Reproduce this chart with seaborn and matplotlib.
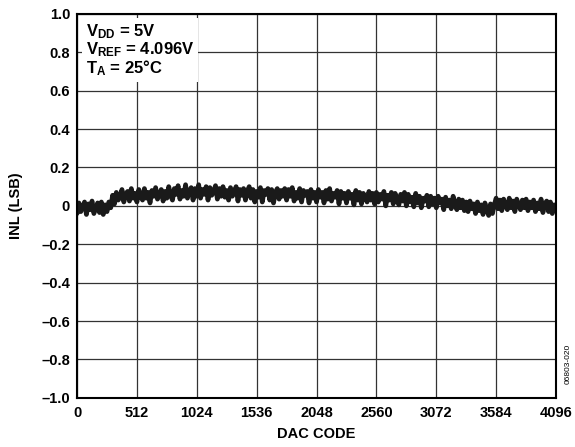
import numpy as np
import pandas as pd
import matplotlib.pyplot as plt
import seaborn as sns

CODE_STEP = 16
inl_lsb = [
    -0.04, 0.015, -0.03, -0.005, 0.02, -0.045, 0.01, -0.02, 0.025, -0.04, -0.01, 0.015, -0.035, 0.02, -0.045, 0.005,
    -0.03, 0.02, -0.01, 0.055, 0.01, 0.07, 0.03, 0.045, 0.085, 0.02, 0.06, 0.075, 0.025, 0.09, 0.04, 0.065,
    0.02, 0.085, 0.05, 0.03, 0.09, 0.04, 0.07, 0.015, 0.08, 0.05, 0.095, 0.035, 0.06, 0.085, 0.025, 0.075,
    0.04, 0.1, 0.055, 0.03, 0.09, 0.06, 0.105, 0.035, 0.08, 0.05, 0.11, 0.04, 0.075, 0.095, 0.03, 0.09,
    0.05, 0.11, 0.04, 0.085, 0.06, 0.1, 0.03, 0.095, 0.055, 0.075, 0.105, 0.035, 0.09, 0.05, 0.1, 0.045,
    0.08, 0.03, 0.095, 0.05, 0.07, 0.1, 0.025, 0.085, 0.055, 0.09, 0.03, 0.075, 0.1, 0.04, 0.085, 0.02,
    0.075, 0.045, 0.095, 0.02, 0.08, 0.06, 0.09, 0.03, 0.085, 0.015, 0.07, 0.09, 0.035, 0.08, 0.05, 0.09,
    0.03, 0.085, 0.05, 0.095, 0.025, 0.07, 0.04, 0.09, 0.02, 0.08, 0.055, 0.075, 0.015, 0.085, 0.04, 0.07,
    0.02, 0.085, 0.045, 0.07, 0.015, 0.08, 0.035, 0.09, 0.025, 0.065, 0.045, 0.08, 0.01, 0.075, 0.04, 0.065,
    0.015, 0.075, 0.04, 0.06, 0.005, 0.08, 0.03, 0.07, 0.01, 0.065, 0.045, 0.02, 0.075, 0.03, 0.065, 0.01,
    0.07, 0.02, 0.06, 0.035, 0.075, 0.0, 0.055, 0.03, 0.07, 0.01, 0.065, 0.04, 0.005, 0.06, 0.025, 0.07,
    0.0, 0.06, 0.02, 0.045, -0.005, 0.065, 0.015, 0.05, -0.01, 0.04, 0.025, 0.055, -0.005, 0.05, 0.01, 0.04,
    -0.01, 0.05, 0.015, 0.035, -0.02, 0.045, 0.0, 0.03, -0.015, 0.05, 0.005, -0.02, 0.035, -0.01, 0.03, -0.025,
    0.02, -0.03, 0.025, -0.015, 0.01, -0.04, 0.02, -0.025, 0.005, -0.045, 0.015, -0.02, -0.05, 0.01, -0.04, 0.005,
    0.04, -0.015, 0.03, -0.025, 0.035, 0.0, -0.02, 0.04, -0.01, 0.025, -0.03, 0.035, 0.005, -0.02, 0.03, -0.01,
    0.035, -0.025, 0.02, -0.01, 0.03, -0.03, 0.015, -0.015, 0.035, -0.035, 0.01, 0.025, -0.03, 0.02, -0.04, 0.005,
    -0.025,
]
dac_code = np.arange(len(inl_lsb)) * CODE_STEP

x_ticks = [0, 512, 1024, 1536, 2048, 2560, 3072, 3584, 4096]
y_ticks = [-1.0, -0.8, -0.6, -0.4, -0.2, 0.0, 0.2, 0.4, 0.6, 0.8, 1.0]
y_tick_labels = ["\u20131.0", "\u20130.8", "\u20130.6", "\u20130.4", "\u20130.2", "0",
                 "0.2", "0.4", "0.6", "0.8", "1.0"]
conditions = [r"V$_{\mathrm{DD}}$ = 5V", r"V$_{\mathrm{REF}}$ = 4.096V", r"T$_{\mathrm{A}}$ = 25°C"]

sns.set_theme(style="white")
plt.rcParams["font.family"] = ["Liberation Sans", "DejaVu Sans"]
plt.rcParams["font.weight"] = "bold"
plt.rcParams["text.color"] = "black"
plt.rcParams["axes.labelcolor"] = "black"
plt.rcParams["xtick.color"] = "black"
plt.rcParams["ytick.color"] = "black"
plt.rcParams["mathtext.fontset"] = "custom"
plt.rcParams["mathtext.rm"] = "Liberation Sans:bold"
plt.rcParams["mathtext.bf"] = "Liberation Sans:bold"
plt.rcParams["mathtext.it"] = "Liberation Sans:bold"

fig = plt.figure(figsize=(5.75, 4.47), dpi=100)
ax = fig.add_axes([0.134, 0.110, 0.833, 0.859])

df = pd.DataFrame({"code": dac_code, "inl": inl_lsb})
sns.lineplot(data=df, x="code", y="inl", color="#1a1a1a", linewidth=3.4, ax=ax, zorder=3)

ax.set_xlim(0, 4096)
ax.set_ylim(-1.0, 1.0)
ax.set_xticks(x_ticks)
ax.set_xticklabels([str(t) for t in x_ticks], fontsize=10.5, fontweight="bold")
ax.set_yticks(y_ticks)
ax.set_yticklabels(y_tick_labels, fontsize=10.5, fontweight="bold")
ax.tick_params(axis="x", length=0, pad=6)
ax.tick_params(axis="y", length=0, pad=5)
ax.grid(True, color="#333333", linewidth=0.9)
ax.set_axisbelow(True)
for s in ax.spines.values():
    s.set_color("black")
    s.set_linewidth(1.5)
    s.set_zorder(5)

ax.set_xlabel("DAC CODE", fontsize=10.5, fontweight="bold", labelpad=5)
ax.set_ylabel("INL (LSB)", fontsize=10.5, fontweight="bold", labelpad=13)

# white box behind the test conditions
ax.text(0.018, 0.978, "\n".join(conditions), transform=ax.transAxes,
        ha="left", va="top", fontsize=12, fontweight="bold", linespacing=0.95,
        bbox=dict(facecolor="white", edgecolor="none", pad=3), zorder=4)

fig.text(0.988, 0.185, "06803-020", rotation=90, fontsize=6, fontweight="normal",
         ha="center", va="center")

fig.savefig("out.png", dpi=100)
